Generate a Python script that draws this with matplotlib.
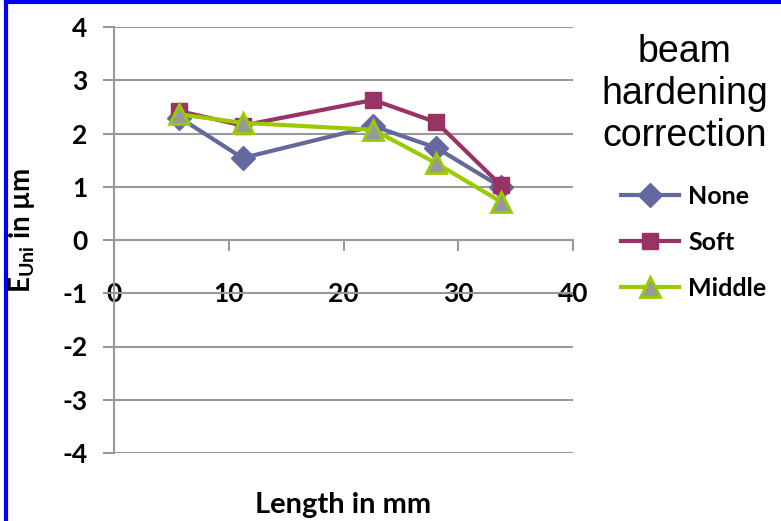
import matplotlib.pyplot as plt
from matplotlib.lines import Line2D

plt.rcParams['font.family'] = ['Lato', 'DejaVu Sans']
plt.rcParams['font.weight'] = 'bold'
plt.rcParams['mathtext.default'] = 'regular'
plt.rcParams['axes.unicode_minus'] = False

# data
length_mm = [5.7, 11.2, 22.6, 28.1, 33.7]
e_none = [2.30, 1.54, 2.14, 1.73, 1.00]
e_soft = [2.42, 2.15, 2.63, 2.21, 1.03]
e_middle = [2.36, 2.20, 2.07, 1.44, 0.72]
series_names = ['None', 'Soft', 'Middle']
x_ticks = [0, 10, 20, 30, 40]
y_ticks = [-4, -3, -2, -1, 0, 1, 2, 3, 4]

C_NONE = '#65679F'
C_SOFT = '#993366'
C_MID = '#99CC00'
C_GRID = '#999999'

fig = plt.figure(figsize=(7.81, 5.21), dpi=100)
fig.patch.set_facecolor('white')
ax = fig.add_axes([114/781, 1-453/521, (573-114)/781, (453-27)/521])

ax.plot(length_mm, e_none, color=C_NONE, lw=3, marker='D', ms=12,
        mfc=C_NONE, mec=C_NONE, label=series_names[0], zorder=3)
ax.plot(length_mm, e_soft, color=C_SOFT, lw=3, marker='s', ms=12,
        mfc=C_SOFT, mec=C_SOFT, label=series_names[1], zorder=4)
ax.plot(length_mm, e_middle, color=C_MID, lw=3, marker='^', ms=14,
        mfc='#999999', mec=C_MID, mew=2, label=series_names[2], zorder=5)

ax.set_xlim(0, 40)
ax.set_ylim(-4, 4)
ax.set_xticks(x_ticks)
ax.set_yticks(y_ticks)
ax.grid(axis='y', color=C_GRID, lw=1.5)
ax.set_axisbelow(True)

for s in ['top', 'right']:
    ax.spines[s].set_visible(False)
ax.spines['bottom'].set_position(('data', 0))
ax.spines['bottom'].set_color(C_GRID)
ax.spines['bottom'].set_linewidth(1.5)
ax.spines['left'].set_color(C_GRID)
ax.spines['left'].set_linewidth(1.5)

ax.tick_params(axis='y', direction='out', length=8, width=1.5, color=C_GRID,
               labelsize=19, pad=11)
ax.tick_params(axis='x', direction='out', length=8, width=1.5, color=C_GRID,
               labelsize=19, pad=22)

fig.text(343/781, 1-505/521, 'Length in mm', ha='center', va='center',
         fontsize=21, fontweight='bold')
fig.text(22/781, 1-230/521, 'E$_{Uni}$ in µm', ha='center', va='center',
         rotation=90, fontsize=20, fontweight='bold')

fig.text(685/781, 1-94/521, 'beam\nhardening\ncorrection', ha='center',
         va='center', fontsize=27, fontweight='normal',
         family='Liberation Sans', linespacing=1.2)

handles = [Line2D([], [], color=C_NONE, lw=3, marker='D', ms=12, mfc=C_NONE, mec=C_NONE),
           Line2D([], [], color=C_SOFT, lw=3, marker='s', ms=12, mfc=C_SOFT, mec=C_SOFT),
           Line2D([], [], color=C_MID, lw=3, marker='^', ms=14, mfc='#999999', mec=C_MID, mew=2)]
leg = fig.legend(handles, series_names, loc='upper left',
                 bbox_to_anchor=(621/781, 1-185/521), frameon=False,
                 prop={'size': 18, 'weight': 'bold'}, handlelength=2.3,
                 handletextpad=0.4, labelspacing=0.92, borderpad=0,
                 borderaxespad=0)

# blue frame at the top and left edge
fig.add_artist(Line2D([6/781, 6/781], [0, 1], color='#0000FF', lw=3,
                      transform=fig.transFigure))
fig.add_artist(Line2D([6/781, 1], [1-1.5/521, 1-1.5/521], color='#0000FF', lw=3,
                      transform=fig.transFigure))

fig.savefig('out.png', dpi=100, facecolor='white')
